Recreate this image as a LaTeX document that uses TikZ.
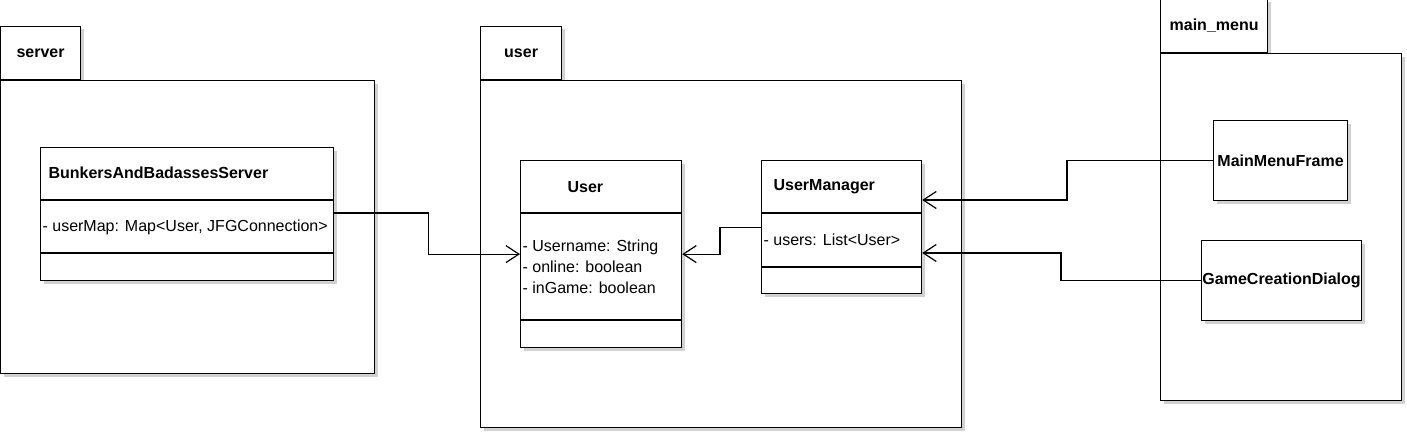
\documentclass[tikz,border=0pt]{standalone}
\usepackage{fontspec}
\setmainfont{Liberation Sans}
\usetikzlibrary{positioning, shadows, arrows.meta}

\begin{document}
\begin{tikzpicture}[x=1pt, y=-1pt, line width=1.2pt,
        every node/.style={font=\fontsize{16}{21}\selectfont},
        boxshadow/.style={drop shadow={shadow xshift=3pt, shadow yshift=-3pt, fill=black!18, opacity=1}},
        bold/.style={font=\fontsize{16}{21}\selectfont\bfseries},
        pkg/.style={draw, rectangle, fill=white, boxshadow, anchor=north west, inner sep=0pt},
        tab/.style={draw, rectangle, fill=white, boxshadow, anchor=south west, inner sep=0pt, minimum height=53pt, bold},
        cls/.style={draw, rectangle, fill=white, boxshadow, anchor=north west, inner sep=0pt},
        lbl/.style={anchor=west, inner sep=0pt, align=left},
        assoc/.style={-{Straight Barb[length=13pt, width=17pt]}}]
        \useasboundingbox (0,0) rectangle (1407,433);

        \node (servertab) [tab, minimum width=80pt] at (0,80) {server};
        \node (server) [pkg, minimum width=374pt, minimum height=293pt] at (servertab.south west) {};
        \node (usertab) [tab, minimum width=81pt] at (480,80) {user};
        \node (userpkg) [pkg, minimum width=481pt, minimum height=347pt] at (usertab.south west) {};
        \node (menutab) [tab, minimum width=107pt] at (1160,53) {main\_menu};
        \node (menupkg) [pkg, minimum width=241pt, minimum height=347pt] at (menutab.south west) {};

        \node (bab) [cls, minimum width=293pt, minimum height=133pt] at (40,147) {};
        \draw (bab.west |- 0,200) -- (bab.east |- 0,200);
        \draw (bab.west |- 0,253) -- (bab.east |- 0,253);
        \node (babname) [lbl, bold] at (48,173) {BunkersAndBadassesServer};
        \node (babattr) [lbl] at (42,227) {- userMap: Map<User, JFGConnection>};

        \node (user) [cls, minimum width=161pt, minimum height=187pt] at (520,160) {};
        \draw (user.west |- 0,213) -- (user.east |- 0,213);
        \draw (user.west |- 0,320) -- (user.east |- 0,320);
        \node (username) [lbl, bold] at (567,187) {User};
        \node (userattr) [lbl] at (522,267) {- Username: String\\- online: boolean\\- inGame: boolean};

        \node (um) [cls, minimum width=160pt, minimum height=133pt] at (761,160) {};
        \draw (um.west |- 0,213) -- (um.east |- 0,213);
        \draw (um.west |- 0,267) -- (um.east |- 0,267);
        \node (umname) [lbl, bold] at (773,187) {UserManager};
        \node (umattr) [lbl] at (763,240) {- users: List<User>};

        \node (mmf) [cls, bold, minimum width=134pt, minimum height=80pt] at (1213,120) {MainMenuFrame};
        \node (gcd) [cls, bold, minimum width=160pt, minimum height=80pt] at (1201,240) {GameCreationDialog};

        \draw[assoc] (bab.east |- 0,213) -- ++(94,0) |- (user.west);
        \draw[assoc] (um.west) -- ++(-41,0) |- (user.east);
        \draw[assoc] (mmf.west) -- ++(-146,0) |- (um.east |- 0,200);
        \draw[assoc] (gcd.west) -- ++(-140,0) |- (um.east |- 0,253);
    \end{tikzpicture}
\end{document}
